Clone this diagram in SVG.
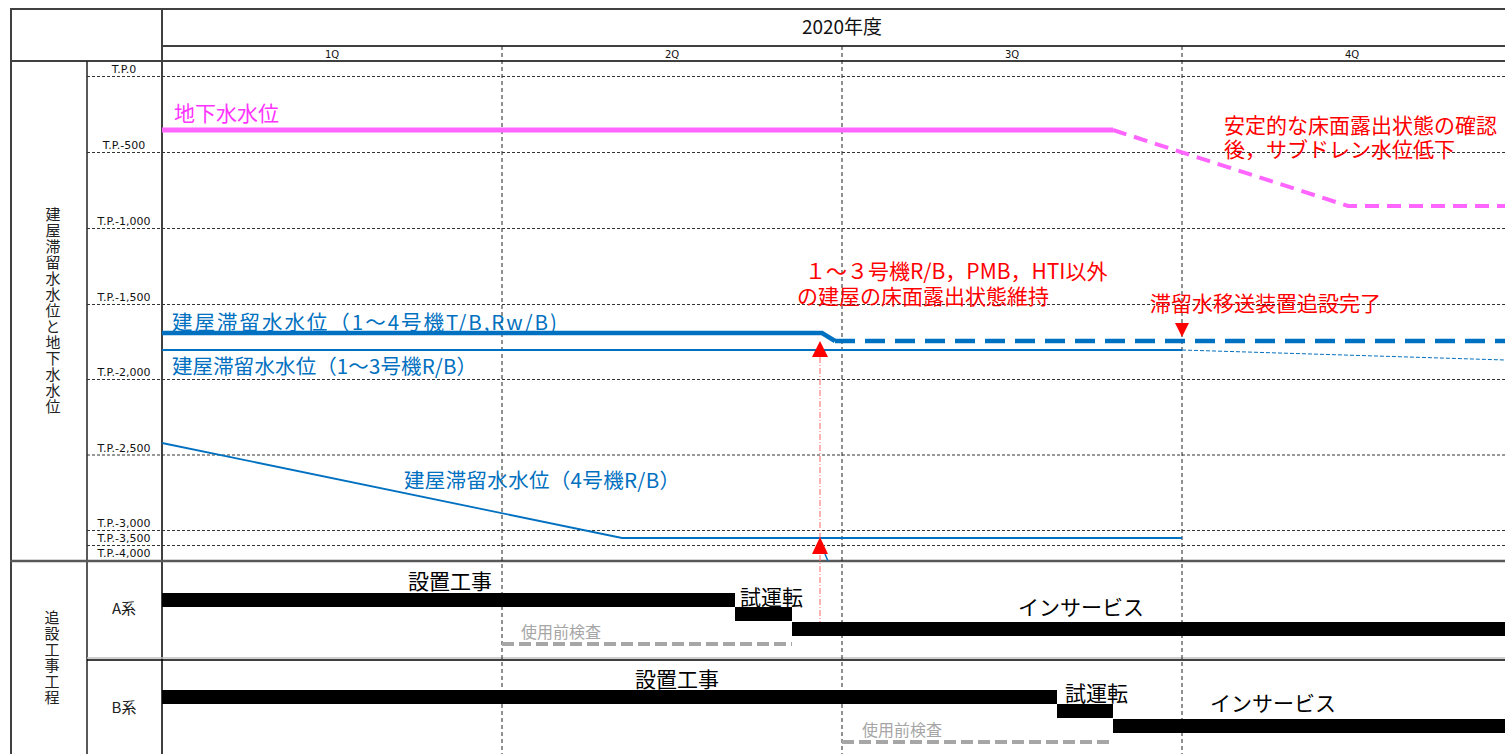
<svg xmlns="http://www.w3.org/2000/svg" width="1505" height="754" viewBox="0 0 1505 754">
<style>
.jp{font-family:"Noto Sans CJK JP",sans-serif}
.tp{font-family:"DejaVu Sans",sans-serif;font-size:11px;fill:#111;text-anchor:middle}
.q{font-family:"DejaVu Sans",sans-serif;font-size:10px;fill:#111;text-anchor:middle}
.grid{stroke:#333;stroke-width:1;stroke-dasharray:3,2;fill:none}
.qline{stroke:#222;stroke-width:1;stroke-dasharray:4,3;fill:none}
.frame{stroke:#404040;stroke-width:2;fill:none}
.blue{fill:#0070C0;font-size:20.5px}
.red{fill:#FF0000;font-size:21px}
.blk{fill:#000;font-size:21px}
.gry{fill:#A6A6A6;font-size:16px}
.bar{fill:#000}
.insp{stroke:#A6A6A6;stroke-width:4;stroke-dasharray:12,5;fill:none}
</style>
<rect width="1505" height="754" fill="#fff"/>
<g id="frame">
<line class="frame" x1="10" y1="9" x2="1505" y2="9"/>
<line class="frame" x1="11" y1="9" x2="11" y2="754"/>
<line x1="162" y1="46" x2="1505" y2="46" stroke="#000" stroke-width="1.5"/>
<line class="frame" x1="10" y1="61" x2="1505" y2="61"/>
<line class="frame" x1="162" y1="9" x2="162" y2="754"/>
<line x1="87" y1="61" x2="87" y2="754" stroke="#222" stroke-width="1.5"/>
<line x1="10" y1="561" x2="1505" y2="561" stroke="#595959" stroke-width="2.5"/>
<line x1="87" y1="658" x2="1505" y2="658" stroke="#BFBFBF" stroke-width="1.5"/>
<line x1="87" y1="660" x2="1505" y2="660" stroke="#000" stroke-width="1.5"/>
</g>
<g id="grid">
<line class="qline" x1="502" y1="46" x2="502" y2="754"/>
<line class="qline" x1="842" y1="46" x2="842" y2="754"/>
<line class="qline" x1="1182" y1="46" x2="1182" y2="754"/>
<line class="grid" x1="87" y1="76.5" x2="1505" y2="76.5"/>
<line class="grid" x1="87" y1="152.5" x2="1505" y2="152.5"/>
<line class="grid" x1="87" y1="228.5" x2="1505" y2="228.5"/>
<line class="grid" x1="87" y1="304.5" x2="1505" y2="304.5"/>
<line class="grid" x1="87" y1="379.5" x2="1505" y2="379.5"/>
<line class="grid" x1="87" y1="455" x2="1505" y2="455"/>
<line class="grid" x1="87" y1="530.5" x2="1505" y2="530.5"/>
<line class="grid" x1="87" y1="545.5" x2="1505" y2="545.5"/>
</g>
<g id="header">
<text class="jp" x="842" y="34" font-size="19" text-anchor="middle" fill="#111">2020年度</text>
<text class="q" x="332" y="58">1Q</text>
<text class="q" x="672" y="58">2Q</text>
<text class="q" x="1012" y="58">3Q</text>
<text class="q" x="1352" y="58">4Q</text>
</g>
<g id="axis-labels">
<text class="tp" x="124" y="73">T.P.0</text>
<text class="tp" x="124" y="149">T.P.-500</text>
<text class="tp" x="124" y="225">T.P.-1,000</text>
<text class="tp" x="124" y="301">T.P.-1,500</text>
<text class="tp" x="124" y="376">T.P.-2,000</text>
<text class="tp" x="124" y="452">T.P.-2,500</text>
<text class="tp" x="124" y="527">T.P.-3,000</text>
<text class="tp" x="124" y="542">T.P.-3,500</text>
<text class="tp" x="124" y="557">T.P.-4,000</text>
<text class="jp" x="53" y="207" font-size="15" fill="#222" writing-mode="vertical-rl" letter-spacing="1">建屋滞留水水位と地下水水位</text>
<text class="jp" x="52" y="610" font-size="15" fill="#222" writing-mode="vertical-rl" letter-spacing="1">追設工事工程</text>
<text class="jp" x="124" y="614" font-size="15" fill="#222" text-anchor="middle">A系</text>
<text class="jp" x="124" y="713" font-size="15" fill="#222" text-anchor="middle">B系</text>
</g>
<g id="connectors">
<polyline points="162,130 1113,130" stroke="#FF66FF" stroke-width="5" fill="none"/>
<polyline points="1113,130 1348,206 1505,206" stroke="#FF66FF" stroke-width="4" stroke-dasharray="14,8" fill="none"/>
<polyline points="162,333 822,333 835,341" stroke="#0070C0" stroke-width="4.5" fill="none"/>
<polyline points="835,341 1505,341" stroke="#0070C0" stroke-width="4.5" stroke-dasharray="20,10" fill="none"/>
<polyline points="162,350 1182,350" stroke="#0070C0" stroke-width="2" fill="none"/>
<polyline points="1182,350 1505,360" stroke="#0070C0" stroke-width="1" stroke-dasharray="4,2" fill="none"/>
<polyline points="162,443 622,538 1182,538" stroke="#0070C0" stroke-width="1.8" fill="none"/>
<line x1="825" y1="554" x2="828" y2="561" stroke="#0070C0" stroke-width="1.5"/>
<line x1="820" y1="357" x2="820" y2="628" stroke="#FF6666" stroke-width="1" stroke-dasharray="6,2,1,2"/>
<polygon points="820,341 812,357 828,357" fill="#FF0000"/>
<polygon points="820,537 812,554 828,554" fill="#FF0000"/>
<polygon points="1175,323 1189,323 1182,337" fill="#FF0000"/>
</g>
<g id="levels">
<text class="jp" x="174" y="121" font-size="21" fill="#FF33FF">地下水水位</text>
<text class="jp blue" x="172" y="330" textLength="385" lengthAdjust="spacing">建屋滞留水水位（1～4号機T/B,Rw/B)</text>
<text class="jp blue" x="172" y="374" textLength="305" lengthAdjust="spacing">建屋滞留水水位（1～3号機R/B）</text>
<text class="jp blue" x="404" y="488" textLength="276" lengthAdjust="spacing">建屋滞留水水位（4号機R/B）</text>
</g>
<g id="notes">
<text class="jp red" x="805" y="279">１～３号機R/B，PMB，HTI以外</text>
<text class="jp red" x="797" y="304">の建屋の床面露出状態維持</text>
<text class="jp red" x="1150" y="311">滞留水移送装置追設完了</text>
<text class="jp red" x="1224" y="133">安定的な床面露出状態の確認</text>
<text class="jp red" x="1224" y="157">後，サブドレン水位低下</text>
</g>
<g id="schedule-A">
<rect class="bar" x="162" y="593" width="573" height="14"/>
<rect class="bar" x="735" y="607" width="57" height="14"/>
<rect class="bar" x="792" y="622" width="713" height="14"/>
<line class="insp" x1="502" y1="644" x2="792" y2="644"/>
<text class="jp blk" x="408" y="589">設置工事</text>
<text class="jp blk" x="740" y="605">試運転</text>
<text class="jp blk" x="1018" y="615">インサービス</text>
<text class="jp gry" x="521" y="638">使用前検査</text>
</g>
<g id="schedule-B">
<rect class="bar" x="162" y="690" width="895" height="14"/>
<rect class="bar" x="1057" y="704" width="56" height="14"/>
<rect class="bar" x="1113" y="719" width="392" height="14"/>
<line class="insp" x1="842" y1="742" x2="1112" y2="742"/>
<text class="jp blk" x="635" y="687">設置工事</text>
<text class="jp blk" x="1065" y="701">試運転</text>
<text class="jp blk" x="1210" y="711">インサービス</text>
<text class="jp gry" x="862" y="736">使用前検査</text>
</g>
</svg>
